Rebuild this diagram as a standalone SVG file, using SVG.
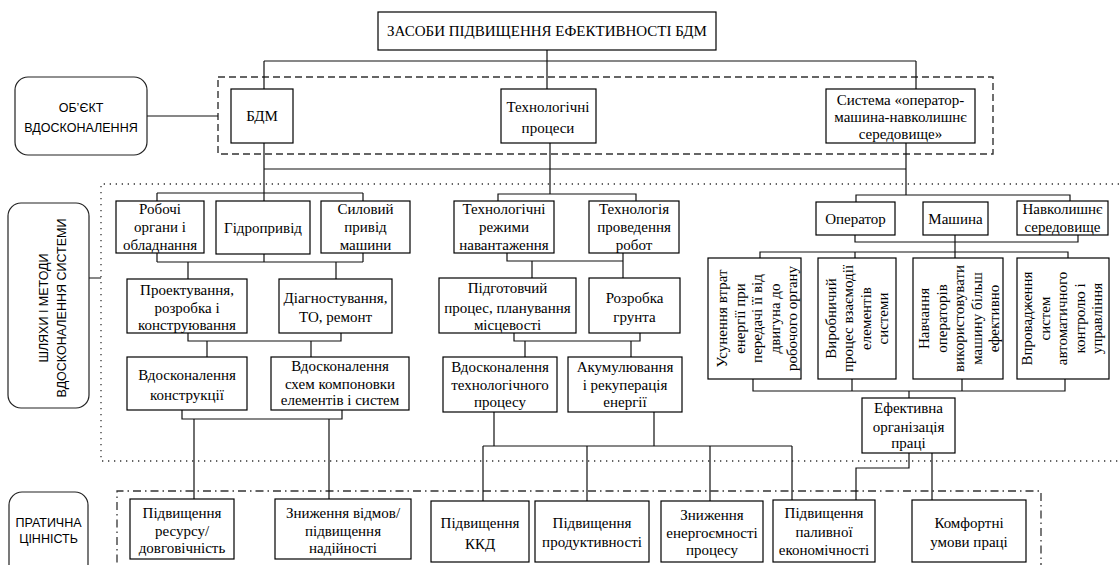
<svg xmlns="http://www.w3.org/2000/svg" width="1120" height="565" viewBox="0 0 1120 565">
<style>
.bg{fill:#fff}
.box{fill:#fff;stroke:#000;stroke-width:1.2}
.lb{fill:#fff;stroke:#222;stroke-width:1.2}
.c{fill:none;stroke:#111;stroke-width:1.2}
.dash{fill:none;stroke:#333;stroke-width:1.4;stroke-dasharray:7 4}
.dot{fill:none;stroke:#333;stroke-width:1.3;stroke-dasharray:1.3 4.7}
.dd{fill:none;stroke:#333;stroke-width:1.3;stroke-dasharray:8 4 1.5 4}
.t{font-family:"Liberation Serif","Times New Roman",serif;font-size:15px;text-anchor:middle;fill:#000}
.s{font-family:"Liberation Sans",Arial,sans-serif;font-size:12.5px;text-anchor:middle;fill:#000}
</style>
<rect class="bg" x="0" y="0" width="1120" height="565"/>

<g id="frames">
<rect class="dash" x="218" y="77" width="775" height="77"/>
<path class="dot" d="M1125,184H101V461H1125"/>
<path class="dd" d="M117,580V491H1041V580"/>
</g>

<g id="connectors" class="c">
<path d="M547,50V61 M264,61H916 M264,61V89 M547,61V89 M916,61V89 M147,116H218 M264,143V201 M264,169H906 M550,143V194 M906,143V195 M89,278H101"/>
<path d="M157,193H363 M157,193V201 M363,193V201 M157,262H363 M157,253V262 M264,254V262 M363,253V262 M188,262V279 M336,262V279 M188,333V341H341V333 M207,341V357 M311,341V357 M182,410V419H342V410 M194,419V499 M329,419V499"/>
<path d="M498,201V194H636V201 M507,253V261H623V253 M532,261V278 M623,261V278 M514,333V341H640V333 M525,341V357 M631,341V357 M494,412V446 M654,412V446 M483,446H792 M483,446V501 M587,446V501 M710,446V501 M792,446V500"/>
<path d="M856,202V195H1070V201 M855,235V242H1078V235 M955,235V258 M760,258V252H1068V258 M855,252V258 M753,379V391H1065V379 M852,379V391 M962,379V391 M909,391V398 M909,453V468H856V500 M932,453V500"/>
</g>

<g id="n-title"><rect class="box" x="378" y="12" width="338" height="38"/><text class="t" x="547" y="36">ЗАСОБИ ПІДВИЩЕННЯ ЕФЕКТИВНОСТІ БДМ</text></g>

<g id="n-obj"><rect class="lb" x="15" y="77" width="132" height="78" rx="13"/><text class="s" x="81"><tspan x="81" y="111.5">ОБ’ЄКТ</tspan><tspan x="81" y="131.5">ВДОСКОНАЛЕННЯ</tspan></text></g>
<g id="n-ways"><rect class="lb" x="8" y="203" width="81" height="205" rx="13"/><text class="s" transform="translate(52,308) rotate(-90)"><tspan x="0" y="-4.5">ШЛЯХИ І МЕТОДИ</tspan><tspan x="0" y="13.5">ВДОСКОНАЛЕННЯ СИСТЕМИ</tspan></text></g>
<g id="n-value"><rect class="lb" x="9" y="492" width="79" height="95" rx="13"/><text class="s"><tspan x="48.5" y="526.5">ПРАТИЧНА</tspan><tspan x="48.5" y="542.5">ЦІННІСТЬ</tspan></text></g>

<g id="n-bdm"><rect class="box" x="231" y="89" width="62" height="54"/><text class="t" x="262" y="121">БДМ</text></g>
<g id="n-tech"><rect class="box" x="501" y="89" width="95" height="54"/><text class="t"><tspan x="548" y="112">Технологічні</tspan><tspan x="548" y="133">процеси</tspan></text></g>
<g id="n-sys"><rect class="box" x="826" y="89" width="149" height="54"/><text class="t"><tspan x="900.5" y="105">Система «оператор-</tspan><tspan x="900.5" y="122">машина-навколишнє</tspan><tspan x="900.5" y="139">середовище»</tspan></text></g>

<g id="n-rob"><rect class="box" x="116" y="201" width="88" height="52"/><text class="t"><tspan x="160" y="214">Робочі</tspan><tspan x="160" y="232">органи і</tspan><tspan x="160" y="250">обладнання</tspan></text></g>
<g id="n-hydro"><rect class="box" x="216" y="201" width="94" height="53"/><text class="t" x="263" y="233">Гідропривід</text></g>
<g id="n-power"><rect class="box" x="321" y="201" width="89" height="52"/><text class="t"><tspan x="365.5" y="214">Силовий</tspan><tspan x="365.5" y="232">привід</tspan><tspan x="365.5" y="250">машини</tspan></text></g>
<g id="n-modes"><rect class="box" x="454" y="201" width="100" height="52"/><text class="t"><tspan x="504" y="214">Технологічні</tspan><tspan x="504" y="232">режими</tspan><tspan x="504" y="250">навантаження</tspan></text></g>
<g id="n-techwork"><rect class="box" x="589" y="201" width="90" height="52"/><text class="t"><tspan x="634" y="214">Технологія</tspan><tspan x="634" y="232">проведення</tspan><tspan x="634" y="250">робот</tspan></text></g>
<g id="n-oper"><rect class="box" x="816" y="202" width="79" height="33"/><text class="t" x="855.5" y="223.5">Оператор</text></g>
<g id="n-mach"><rect class="box" x="923" y="202" width="65" height="33"/><text class="t" x="955.5" y="223.5">Машина</text></g>
<g id="n-env"><rect class="box" x="1017" y="201" width="91" height="34"/><text class="t"><tspan x="1062.5" y="214">Навколишнє</tspan><tspan x="1062.5" y="232">середовище</tspan></text></g>

<g id="n-design"><rect class="box" x="127" y="279" width="120" height="54"/><text class="t"><tspan x="187" y="295">Проектування,</tspan><tspan x="187" y="313">розробка і</tspan><tspan x="187" y="330">конструювання</tspan></text></g>
<g id="n-diag"><rect class="box" x="279" y="279" width="113" height="54"/><text class="t"><tspan x="335.5" y="303">Діагностування,</tspan><tspan x="335.5" y="322">ТО, ремонт</tspan></text></g>
<g id="n-prep"><rect class="box" x="439" y="278" width="137" height="55"/><text class="t"><tspan x="507.5" y="293">Підготовчий</tspan><tspan x="507.5" y="313">процес, планування</tspan><tspan x="507.5" y="330">місцевості</tspan></text></g>
<g id="n-soil"><rect class="box" x="589" y="278" width="91" height="55"/><text class="t"><tspan x="634.5" y="303">Розробка</tspan><tspan x="634.5" y="322">грунта</tspan></text></g>

<g id="n-loss"><rect class="box" x="708" y="258" width="93" height="121"/><text class="t" transform="translate(757,318.5) rotate(-90)"><tspan x="0" y="-30">Усунення втрат</tspan><tspan x="0" y="-12.5">енергії при</tspan><tspan x="0" y="5">передачі її від</tspan><tspan x="0" y="22.5">двигуна до</tspan><tspan x="0" y="40">робочого органу</tspan></text></g>
<g id="n-prod"><rect class="box" x="818" y="258" width="78" height="121"/><text class="t" transform="translate(857,318.5) rotate(-90)"><tspan x="0" y="-21.25">Виробничий</tspan><tspan x="0" y="-3.75">процес взаємодії</tspan><tspan x="0" y="13.75">елементів</tspan><tspan x="0" y="31.25">системи</tspan></text></g>
<g id="n-train"><rect class="box" x="913" y="258" width="90" height="121"/><text class="t" transform="translate(959,318.5) rotate(-90)"><tspan x="0" y="-30">Навчання</tspan><tspan x="0" y="-12.5">операторів</tspan><tspan x="0" y="5">використовувати</tspan><tspan x="0" y="22.5">машину більш</tspan><tspan x="0" y="40">ефективно</tspan></text></g>
<g id="n-auto"><rect class="box" x="1017" y="258" width="92" height="121"/><text class="t" transform="translate(1062,318.5) rotate(-90)"><tspan x="0" y="-30">Впровадження</tspan><tspan x="0" y="-12.5">систем</tspan><tspan x="0" y="5">автоматичного</tspan><tspan x="0" y="22.5">контролю і</tspan><tspan x="0" y="40">управління</tspan></text></g>

<g id="n-constr"><rect class="box" x="127" y="357" width="120" height="53"/><text class="t"><tspan x="187" y="380">Вдосконалення</tspan><tspan x="187" y="400">конструкції</tspan></text></g>
<g id="n-layout"><rect class="box" x="271" y="357" width="138" height="53"/><text class="t"><tspan x="340" y="371">Вдосконалення</tspan><tspan x="340" y="389">схем компоновки</tspan><tspan x="340" y="405">елементів і систем</tspan></text></g>
<g id="n-techproc"><rect class="box" x="443" y="357" width="114" height="55"/><text class="t"><tspan x="500" y="372">Вдосконалення</tspan><tspan x="500" y="390">технологічного</tspan><tspan x="500" y="407">процесу</tspan></text></g>
<g id="n-accum"><rect class="box" x="568" y="357" width="114" height="55"/><text class="t"><tspan x="625" y="372">Акумулювання</tspan><tspan x="625" y="390">і рекуперація</tspan><tspan x="625" y="407">енергії</tspan></text></g>
<g id="n-org"><rect class="box" x="862" y="398" width="93" height="55"/><text class="t"><tspan x="908.5" y="413">Ефективна</tspan><tspan x="908.5" y="432">організація</tspan><tspan x="908.5" y="448">праці</tspan></text></g>

<g id="n-res"><rect class="box" x="130" y="499" width="104" height="60"/><text class="t"><tspan x="182" y="518">Підвищення</tspan><tspan x="182" y="536">ресурсу/</tspan><tspan x="182" y="553">довговічність</tspan></text></g>
<g id="n-fail"><rect class="box" x="275" y="499" width="136" height="60"/><text class="t"><tspan x="343" y="518">Зниження відмов/</tspan><tspan x="343" y="536">підвищення</tspan><tspan x="343" y="553">надійності</tspan></text></g>
<g id="n-kkd"><rect class="box" x="431" y="501" width="98" height="61"/><text class="t"><tspan x="480" y="528">Підвищення</tspan><tspan x="480" y="549">ККД</tspan></text></g>
<g id="n-perf"><rect class="box" x="535" y="501" width="114" height="61"/><text class="t"><tspan x="592" y="528">Підвищення</tspan><tspan x="592" y="547">продуктивності</tspan></text></g>
<g id="n-energy"><rect class="box" x="661" y="501" width="102" height="61"/><text class="t"><tspan x="712" y="520">Зниження</tspan><tspan x="712" y="538">енергоємності</tspan><tspan x="712" y="555">процесу</tspan></text></g>
<g id="n-fuel"><rect class="box" x="773" y="500" width="102" height="62"/><text class="t"><tspan x="824" y="518">Підвищення</tspan><tspan x="824" y="537">паливної</tspan><tspan x="824" y="555">економічності</tspan></text></g>
<g id="n-comfort"><rect class="box" x="912" y="500" width="114" height="62"/><text class="t"><tspan x="969" y="528">Комфортні</tspan><tspan x="969" y="547">умови праці</tspan></text></g>
</svg>
